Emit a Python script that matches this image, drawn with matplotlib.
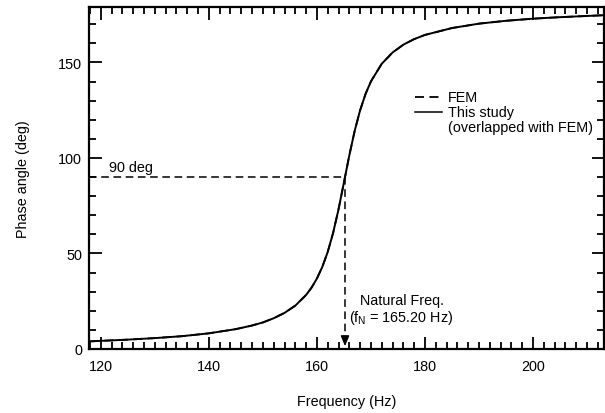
import matplotlib
matplotlib.use("Agg")
import matplotlib.pyplot as plt
from matplotlib.ticker import MultipleLocator

plt.rcParams['font.family'] = ['Liberation Sans', 'DejaVu Sans']

freq = [118, 125, 130, 135, 140, 145, 148, 150, 152, 154, 156, 158, 159, 160,
        161, 162, 163, 164, 165.2, 166, 167, 168, 169, 170, 172, 174, 176, 178,
        180, 185, 190, 195, 200, 205, 213]
phase_this = [4.0, 4.9, 5.7, 6.7, 8.2, 10.4, 12.3, 13.9, 16.1, 18.9, 22.7, 28.3,
              32.1, 36.9, 43.0, 50.8, 60.8, 73.1, 90.0, 101.4, 114.3, 125.0,
              133.5, 140.1, 149.3, 155.2, 159.3, 162.2, 164.4, 168.0, 170.3,
              171.8, 172.9, 173.7, 174.7]
phase_fem = phase_this
f_natural = 165.20
phase_ref = 90

FS = 10.4

fig = plt.figure(figsize=(6.05, 4.14), dpi=100)
ax = fig.add_axes([0.147, 0.1546, 0.851, 0.826])

ax.plot(freq, phase_fem, color='black', lw=1.3, ls=(0, (5, 3)))
ax.plot(freq, phase_this, color='black', lw=1.4)

ax.plot([117.8, f_natural], [phase_ref, phase_ref], color='black', lw=1.1, ls=(0, (5, 3)))
ax.plot([f_natural, f_natural], [phase_ref, 6], color='black', lw=1.1, ls=(0, (5, 3)))
ax.annotate('', xy=(f_natural, 0), xytext=(f_natural, 7),
            arrowprops=dict(arrowstyle='-|>,head_width=0.25,head_length=0.6',
                            color='black', lw=1.1))

ax.set_xlim(117.8, 213.1)
ax.set_ylim(0, 179)
ax.xaxis.set_major_locator(MultipleLocator(20))
ax.xaxis.set_minor_locator(MultipleLocator(2))
ax.yaxis.set_major_locator(MultipleLocator(50))
ax.yaxis.set_minor_locator(MultipleLocator(10))
ax.tick_params(which='both', direction='in', top=True, right=True,
               labelsize=FS, width=1.3)
ax.tick_params(axis='x', pad=7)
ax.tick_params(axis='y', pad=5)
ax.tick_params(which='major', length=9)
ax.tick_params(which='minor', length=5)
for s in ax.spines.values():
    s.set_linewidth(1.6)

ax.set_xlabel('Frequency (Hz)', fontsize=FS, labelpad=15)
ax.set_ylabel('Phase angle (deg)', fontsize=FS, labelpad=20)

ax.text(121.6, 95.5, '90 deg', fontsize=FS, va='center', ha='left')
ax.text(175.7, 25.8, 'Natural Freq.', fontsize=FS, va='center', ha='center')
ax.text(166.0, 17.0, r'(f$_\mathregular{N}$ = 165.20 Hz)', fontsize=FS,
        va='center', ha='left')

# legend drawn manually
ax.plot([0.633, 0.686], [0.738, 0.738], transform=ax.transAxes, color='black',
        lw=1.3, ls=(0, (5, 3)))
ax.plot([0.633, 0.686], [0.694, 0.694], transform=ax.transAxes, color='black',
        lw=1.1)
ax.text(0.697, 0.738, 'FEM', transform=ax.transAxes, fontsize=FS, va='center')
ax.text(0.697, 0.694, 'This study', transform=ax.transAxes, fontsize=FS, va='center')
ax.text(0.697, 0.648, '(overlapped with FEM)', transform=ax.transAxes,
        fontsize=FS, va='center')

fig.savefig('out.png', dpi=100)
